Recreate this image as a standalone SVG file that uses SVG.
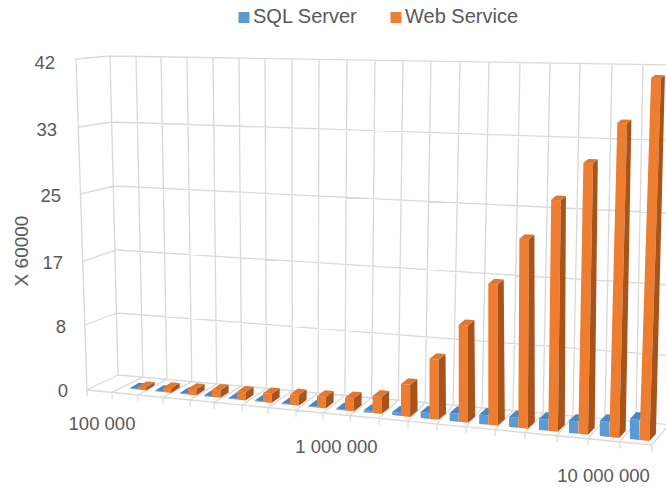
<svg xmlns="http://www.w3.org/2000/svg" width="666" height="488" viewBox="0 0 666 488">
<style>
.grid{stroke:#D9D9D9;stroke-width:1.3;fill:none;stroke-linecap:round}
.lbl{font-family:"Liberation Sans",Arial,sans-serif;font-size:18.5px;fill:#595959}
.leg{font-family:"Liberation Sans",Arial,sans-serif;font-size:20px;fill:#595959}
.bf{fill:#5B9BD5}.bt{fill:#4A86C5}
.of{fill:#ED7D31}.os{fill:#A9521A}.ot{fill:#E0762F}
</style>
<rect width="666" height="488" fill="#FFFFFF"/>
<g id="gridlines">
<path class="grid" d="M118 375L666 424.3M117 313L666 355.3M116 250L666 284.7M114 186L666 213M112 122L666 140.3M110 56L666 64.9
M110 56L118 375M136 56.4L142.9 377.2M161 56.8L166.9 379.4M187 57.2L191.8 381.6M213 57.7L216.7 383.9M239 58.1L241.6 386.1M265 58.5L266.5 388.4M292 58.9L292.3 390.7M319 59.3L318.1 393M347 59.8L344.9 395.4M375 60.2L371.6 397.8M403 60.7L398.3 400.2M431 61.1L425.1 402.6M460 61.6L453.1 405.2M489 62.1L482.1 407.8M520 62.6L513 410.6M550 63L543 413.3M580 63.5L572.9 415.9M612 64L604.9 418.8M643 64.5L635.9 421.6M676 65.1L668.8 424.6
M76 59L110 56M79 127L112 122M81 194L114 186M84 261L116 250M85 325L117 313M87 390L118 375M76 59L87 390
M87 390L652 445M652 445L668.8 424.6
M112 392.4L142.9 377.2M138 395L166.9 379.4M163 397.4L191.8 381.6M190 400L216.7 383.9M214 402.4L241.6 386.1M242 405.1L266.5 388.4M268 407.6L292.3 390.7M296 410.3L318.1 393M323 413L344.9 395.4M350 415.6L371.6 397.8M379 418.4L398.3 400.2M408 421.2L425.1 402.6M437 424.1L453.1 405.2M466 426.9L482.1 407.8M495 429.7L513 410.6M525 432.6L543 413.3M557 435.7L572.9 415.9M588 438.8L604.9 418.8M620 441.9L635.9 421.6
M87 390V396M112 392.4V398.4M138 395V401M163 397.4V403.4M190 400V406M214 402.4V408.4M242 405.1V411.1M268 407.6V413.6M296 410.3V416.3M323 413V419M350 415.6V421.6M379 418.4V424.4M408 421.2V427.2M437 424.1V430.1M466 426.9V432.9M495 429.7V435.7M525 432.6V438.6M557 435.7V441.7M588 438.8V444.8M620 441.9V447.9M652 445V451"/>
</g>
<g id="series-sql-server">
<polygon class="bf" points="130.2,388.8 138,389.6 138,388.8 130.2,388"/><polygon class="bt" points="130.2,388 138,388.8 146.5,383.6 138.7,382.8"/>
<polygon class="bf" points="155.1,391.3 163,392.1 163,391.3 155.1,390.5"/><polygon class="bt" points="155.1,390.5 163,391.3 171.4,386 163.5,385.2"/>
<polygon class="bf" points="180,393.8 188,394.6 188,393.8 180,393"/><polygon class="bt" points="180,393 188,393.8 196.3,388.4 188.3,387.6"/>
<polygon class="bf" points="203.9,396.2 212,397 212,396.2 203.9,395.4"/><polygon class="bt" points="203.9,395.4 212,396.2 220.2,390.7 212.1,389.9"/>
<polygon class="bf" points="228.8,398.7 237,399.5 237,398.7 228.8,397.9"/><polygon class="bt" points="228.8,397.9 237,398.7 245.1,393.1 236.9,392.3"/>
<polygon class="bf" points="254.7,401.3 263,402.1 263,401.3 254.7,400.5"/><polygon class="bt" points="254.7,400.5 263,401.3 271,395.7 262.7,394.9"/>
<polygon class="bf" points="281.6,404 290,404.8 290,404 281.6,403.2"/><polygon class="bt" points="281.6,403.2 290,404 297.9,398.3 289.5,397.5"/>
<polygon class="bf" points="308.5,406.7 317,407.6 317,406.8 308.5,405.9"/><polygon class="bt" points="308.5,405.9 317,406.8 324.8,400.9 316.3,400.1"/>
<polygon class="bf" points="336.4,409.5 345,410.4 345,409.4 336.4,408.5"/><polygon class="bt" points="336.4,408.5 345,409.4 352.7,403.4 344.1,402.5"/>
<polygon class="bf" points="363.8,412.3 372.5,413.1 372.5,411.1 363.8,410.3"/><polygon class="bt" points="363.8,410.3 372.5,411.1 380.1,405.1 371.4,404.3"/>
<polygon class="bf" points="392.2,415.1 401,416 401,413 392.2,412.1"/><polygon class="bt" points="392.2,412.1 401,413 408.5,406.8 399.7,406"/>
<polygon class="bf" points="420.6,418 429.5,418.9 429.5,412.9 420.6,412"/><polygon class="bt" points="420.6,412 429.5,412.9 436.8,406.7 427.9,405.8"/>
<polygon class="bf" points="449.7,420.9 458.7,421.8 458.7,413.8 449.7,412.9"/><polygon class="bt" points="449.7,412.9 458.7,413.8 465.9,407.5 456.9,406.6"/>
<polygon class="bf" points="479.2,423.9 488.3,424.8 488.3,415.3 479.2,414.4"/><polygon class="bt" points="479.2,414.4 488.3,415.3 495.4,408.9 486.3,408"/>
<polygon class="bf" points="509.1,426.9 518.3,427.8 518.3,417.8 509.1,416.9"/><polygon class="bt" points="509.1,416.9 518.3,417.8 525.3,411.3 516.1,410.4"/>
<polygon class="bf" points="539,429.9 548.3,430.8 548.3,419.8 539,418.9"/><polygon class="bt" points="539,418.9 548.3,419.8 555.2,413.2 545.9,412.3"/>
<polygon class="bf" points="568.9,432.9 578.3,433.8 578.3,421.8 568.9,420.9"/><polygon class="bt" points="568.9,420.9 578.3,421.8 585.1,415.1 575.7,414.2"/>
<polygon class="bf" points="599.8,436 609.3,436.9 609.3,421.9 599.8,421"/><polygon class="bt" points="599.8,421 609.3,421.9 615.9,415.1 606.4,414.2"/>
<polygon class="bf" points="629.9,439 639.5,440 639.5,420 629.9,419"/><polygon class="bt" points="629.9,419 639.5,420 646,413.1 636.4,412.1"/>
</g>
<g id="series-web-service">
<polygon class="of" points="138,389.6 146.1,390.4 146.1,387.3 138,386.6"/><polygon class="os" points="146.1,390.4 154.6,385.2 154.6,382.1 146.1,387.3"/><polygon class="ot" points="138,386.6 146.1,387.3 154.6,382.1 146.5,381.4"/>
<polygon class="of" points="163,392.1 171.2,392.9 171.2,388.3 163,387.6"/><polygon class="os" points="171.2,392.9 179.6,387.6 179.6,383 171.2,388.3"/><polygon class="ot" points="163,387.6 171.2,388.3 179.6,383 171.4,382.3"/>
<polygon class="of" points="188,394.6 196.3,395.4 196.3,389.3 188,388.6"/><polygon class="os" points="196.3,395.4 204.6,390 204.6,384 196.3,389.3"/><polygon class="ot" points="188,388.6 196.3,389.3 204.6,384 196.3,383.2"/>
<polygon class="of" points="212,397 220.4,397.8 220.4,390.3 212,389.5"/><polygon class="os" points="220.4,397.8 228.6,392.4 228.6,384.8 220.4,390.3"/><polygon class="ot" points="212,389.5 220.4,390.3 228.6,384.8 220.2,384"/>
<polygon class="of" points="237,399.5 245.5,400.4 245.5,392.3 237,391.5"/><polygon class="os" points="245.5,400.4 253.6,394.8 253.6,386.7 245.5,392.3"/><polygon class="ot" points="237,391.5 245.5,392.3 253.6,386.7 245.1,385.9"/>
<polygon class="of" points="263,402.1 271.6,403 271.6,393.9 263,393.1"/><polygon class="os" points="271.6,403 279.6,397.3 279.6,388.3 271.6,393.9"/><polygon class="ot" points="263,393.1 271.6,393.9 279.6,388.3 271,387.5"/>
<polygon class="of" points="290,404.8 298.7,405.7 298.7,395.1 290,394.3"/><polygon class="os" points="298.7,405.7 306.6,400 306.6,389.4 298.7,395.1"/><polygon class="ot" points="290,394.3 298.7,395.1 306.6,389.4 297.9,388.6"/>
<polygon class="of" points="317,407.6 325.8,408.4 325.8,396.9 317,396.1"/><polygon class="os" points="325.8,408.4 333.6,402.6 333.6,391 325.8,396.9"/><polygon class="ot" points="317,396.1 325.8,396.9 333.6,391 324.8,390.2"/>
<polygon class="of" points="345,410.4 353.9,411.3 353.9,398.2 345,397.4"/><polygon class="os" points="353.9,411.3 361.6,405.3 361.6,392.2 353.9,398.2"/><polygon class="ot" points="345,397.4 353.9,398.2 361.6,392.2 352.7,391.4"/>
<polygon class="of" points="372.5,413.1 381.5,414 381.5,397 372.5,396.1"/><polygon class="os" points="381.5,414 389.1,408 389.1,390.9 381.5,397"/><polygon class="ot" points="372.5,396.1 381.5,397 389.1,390.9 380.1,390.1"/>
<polygon class="of" points="401,416 410.1,416.9 410.1,384.8 401,384"/><polygon class="os" points="410.1,416.9 417.6,410.8 417.3,379 410.1,384.8"/><polygon class="ot" points="401,384 410.1,384.8 417.3,379 408.2,378.2"/>
<polygon class="of" points="429.5,418.9 438.7,419.8 438.7,359.6 429.5,358.9"/><polygon class="os" points="438.7,419.8 446,413.5 445.5,354 438.7,359.6"/><polygon class="ot" points="429.5,358.9 438.7,359.6 445.5,354 436.3,353.2"/>
<polygon class="of" points="458.7,421.8 468,422.7 468,325.5 458.7,324.8"/><polygon class="os" points="468,422.7 475.2,416.4 474.4,320.1 468,325.5"/><polygon class="ot" points="458.7,324.8 468,325.5 474.4,320.1 465.1,319.4"/>
<polygon class="of" points="488.3,424.8 497.7,425.7 497.7,284.4 488.3,283.8"/><polygon class="os" points="497.7,425.7 504.8,419.3 503.7,279.4 497.7,284.4"/><polygon class="ot" points="488.3,283.8 497.7,284.4 503.7,279.4 494.3,278.8"/>
<polygon class="of" points="518.3,427.8 527.8,428.7 528.9,239.3 519.4,238.8"/><polygon class="os" points="527.8,428.7 534.8,422.2 534.4,234.7 528.9,239.3"/><polygon class="ot" points="519.4,238.8 528.9,239.3 534.4,234.7 524.9,234.2"/>
<polygon class="of" points="548.3,430.8 557.9,431.8 560.8,200.3 551.2,199.8"/><polygon class="os" points="557.9,431.8 564.8,425.1 565.9,196 560.8,200.3"/><polygon class="ot" points="551.2,199.8 560.8,200.3 565.9,196 556.3,195.6"/>
<polygon class="of" points="578.3,433.8 588,434.8 593.1,163.2 583.4,162.8"/><polygon class="os" points="588,434.8 594.7,428 597.8,159.3 593.1,163.2"/><polygon class="ot" points="583.4,162.8 593.1,163.2 597.8,159.3 588.1,158.9"/>
<polygon class="of" points="609.3,436.9 619.1,437.9 627.1,123.2 617.3,122.9"/><polygon class="os" points="619.1,437.9 625.7,431 631.4,119.8 627.1,123.2"/><polygon class="ot" points="617.3,122.9 627.1,123.2 631.4,119.8 621.6,119.5"/>
<polygon class="of" points="639.5,440 649.4,441 661,78.2 651.1,78"/><polygon class="os" points="649.4,441 655.9,434 664.9,75.2 661,78.2"/><polygon class="ot" points="651.1,78 661,78.2 664.9,75.2 655,75"/>
</g>
<g id="value-axis">
<text class="lbl" x="55" y="68.5" text-anchor="end">42</text>
<text class="lbl" x="57" y="135.5" text-anchor="end">33</text>
<text class="lbl" x="61" y="202" text-anchor="end">25</text>
<text class="lbl" x="63" y="268.5" text-anchor="end">17</text>
<text class="lbl" x="66" y="333" text-anchor="end">8</text>
<text class="lbl" x="68" y="396.5" text-anchor="end">0</text>
<text class="lbl" style="font-size:19px" transform="translate(28,251) rotate(-90)" text-anchor="middle">X 60000</text>
</g>
<g id="category-axis">
<text class="lbl" x="102" y="430" text-anchor="middle">100 000</text>
<text class="lbl" x="336.5" y="453" text-anchor="middle">1 000 000</text>
<text class="lbl" x="603.5" y="481.5" text-anchor="middle">10 000 000</text>
</g>
<g id="legend">
<rect x="238.5" y="12" width="11" height="11" fill="#5B9BD5"/>
<text class="leg" x="253" y="23">SQL Server</text>
<rect x="390.5" y="12" width="11" height="11" fill="#ED7D31"/>
<text class="leg" x="405" y="23">Web Service</text>
</g>
</svg>
